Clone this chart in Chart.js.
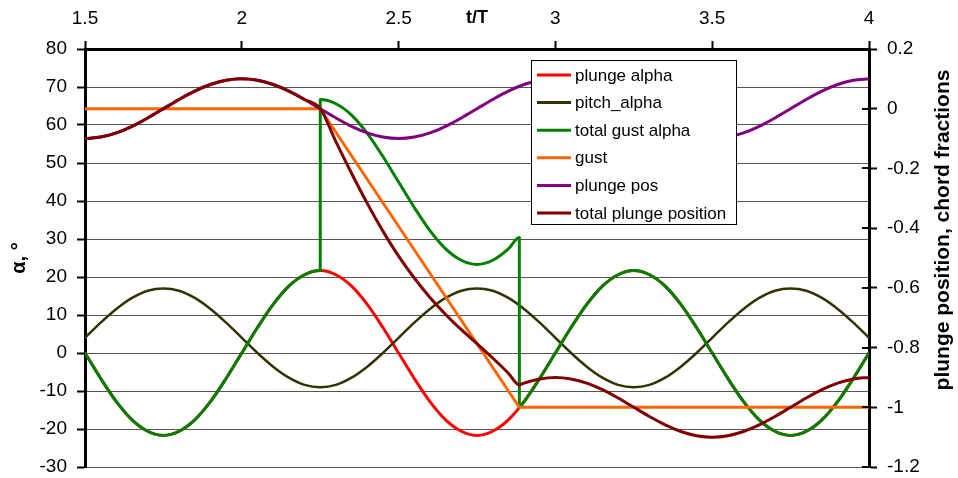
<!DOCTYPE html>
<html>
<head>
<meta charset="utf-8">
<script src="https://cdn.jsdelivr.net/npm/chart.js@4.4.1/dist/chart.umd.min.js"></script>
<style>
  body { margin: 0; background: #fff; }
</style>
</head>
<body>
<canvas id="myChart" width="958" height="478"></canvas>
<script>
// time in periods (t/T), shared by the smooth series
var tT = [1.5, 1.55, 1.6, 1.65, 1.7, 1.75, 1.8, 1.85, 1.9, 1.95,
          2, 2.05, 2.1, 2.15, 2.2, 2.25, 2.3, 2.35, 2.4, 2.45,
          2.5, 2.55, 2.6, 2.65, 2.7, 2.75, 2.8, 2.85, 2.9, 2.95,
          3, 3.05, 3.1, 3.15, 3.2, 3.25, 3.3, 3.35, 3.4, 3.45,
          3.5, 3.55, 3.6, 3.65, 3.7, 3.75, 3.8, 3.85, 3.9, 3.95, 4];

// angles in degrees
var plungeAlpha = [0, -6.7, -12.8, -17.6, -20.6, -21.7, -20.6, -17.6, -12.8, -6.7,
                   0, 6.7, 12.8, 17.6, 20.6, 21.7, 20.6, 17.6, 12.8, 6.7,
                   0, -6.7, -12.8, -17.6, -20.6, -21.7, -20.6, -17.6, -12.8, -6.7,
                   0, 6.7, 12.8, 17.6, 20.6, 21.7, 20.6, 17.6, 12.8, 6.7,
                   0, -6.7, -12.8, -17.6, -20.6, -21.7, -20.6, -17.6, -12.8, -6.7, 0];

var pitchAlpha = [4, 8, 11.6, 14.5, 16.4, 17, 16.4, 14.5, 11.6, 8,
                  4, 0, -3.6, -6.5, -8.4, -9, -8.4, -6.5, -3.6, 0,
                  4, 8, 11.6, 14.5, 16.4, 17, 16.4, 14.5, 11.6, 8,
                  4, 0, -3.6, -6.5, -8.4, -9, -8.4, -6.5, -3.6, 0,
                  4, 8, 11.6, 14.5, 16.4, 17, 16.4, 14.5, 11.6, 8, 4];

// total gust alpha jumps when the gust starts and stops, so it has its own times
var gustAlphaT = [1.5, 1.55, 1.6, 1.65, 1.7, 1.75, 1.8, 1.85, 1.9, 1.95,
                  2, 2.05, 2.1, 2.15, 2.2, 2.25, 2.2501, 2.2502, 2.3, 2.35, 2.4, 2.45,
                  2.5, 2.55, 2.6, 2.65, 2.7, 2.75, 2.8, 2.85, 2.885, 2.8851, 2.9, 2.95,
                  3, 3.05, 3.1, 3.15, 3.2, 3.25, 3.3, 3.35, 3.4, 3.45,
                  3.5, 3.55, 3.6, 3.65, 3.7, 3.75, 3.8, 3.85, 3.9, 3.95, 4];
var gustAlpha = [0, -6.7, -12.8, -17.6, -20.6, -21.7, -20.6, -17.6, -12.8, -6.7,
                 0, 6.7, 12.8, 17.6, 20.6, 21.7, 21.7, 66.7, 65.6, 62.6, 57.8, 51.7,
                 45, 38.3, 32.2, 27.4, 24.4, 23.3, 24.4, 27.4, 30.4, -14.3, -12.8, -6.7,
                 0, 6.7, 12.8, 17.6, 20.6, 21.7, 20.6, 17.6, 12.8, 6.7,
                 0, -6.7, -12.8, -17.6, -20.6, -21.7, -20.6, -17.6, -12.8, -6.7, 0];

// positions in chord fractions (right axis)
var gustT = [1.5, 2.25, 2.885, 4];
var gustPos = [0, 0, -1, -1];

var plungePos = [-0.1, -0.095, -0.081, -0.059, -0.031, 0, 0.031, 0.059, 0.081, 0.095,
                 0.1, 0.095, 0.081, 0.059, 0.031, 0, -0.031, -0.059, -0.081, -0.095,
                 -0.1, -0.095, -0.081, -0.059, -0.031, 0, 0.031, 0.059, 0.081, 0.095,
                 0.1, 0.095, 0.081, 0.059, 0.031, 0, -0.031, -0.059, -0.081, -0.095,
                 -0.1, -0.095, -0.081, -0.059, -0.031, 0, 0.031, 0.059, 0.081, 0.095, 0.1];

var totalPosT = [1.5, 1.55, 1.6, 1.65, 1.7, 1.75, 1.8, 1.85, 1.9, 1.95,
                 2, 2.05, 2.1, 2.15, 2.2, 2.25, 2.3, 2.35, 2.4, 2.45,
                 2.5, 2.55, 2.6, 2.65, 2.7, 2.75, 2.8, 2.85, 2.885, 2.9, 2.95,
                 3, 3.05, 3.1, 3.15, 3.2, 3.25, 3.3, 3.35, 3.4, 3.45,
                 3.5, 3.55, 3.6, 3.65, 3.7, 3.75, 3.8, 3.85, 3.9, 3.95, 4];
var totalPos = [-0.1, -0.095, -0.081, -0.059, -0.031, 0, 0.031, 0.059, 0.081, 0.095,
                0.1, 0.095, 0.081, 0.059, 0.031, 0, -0.11, -0.216, -0.317, -0.41,
                -0.494, -0.567, -0.632, -0.689, -0.74, -0.787, -0.835, -0.886, -0.925, -0.919, -0.905,
                -0.9, -0.905, -0.919, -0.941, -0.969, -1, -1.031, -1.059, -1.081, -1.095,
                -1.1, -1.095, -1.081, -1.059, -1.031, -1, -0.969, -0.941, -0.919, -0.905, -0.9];

// axis ticks
var xTicks = [1.5, 2, 2.5, 3, 3.5, 4];
var leftTicks = [-30, -20, -10, 0, 10, 20, 30, 40, 50, 60, 70, 80];
var rightTicks = [-1.2, -1, -0.8, -0.6, -0.4, -0.2, 0, 0.2];

function pts(xs, ys) {
  return xs.map(function (x, i) { return { x: x, y: ys[i] }; });
}

// fixed axis sizes, no extra room for the end labels
function fitTo(size, horizontal) {
  return function (s) {
    if (horizontal) { s.height = size; } else { s.width = size; }
    s.paddingTop = s.paddingBottom = s.paddingLeft = s.paddingRight = 0;
  };
}

Chart.defaults.font.family = '"Liberation Sans", Arial, sans-serif';
Chart.defaults.color = '#000';

// axis titles, the framed legend and the inner half of the right-hand ticks
var extras = {
  id: 'extras',
  afterDraw: function (chart) {
    var ctx = chart.ctx;
    var area = chart.chartArea;
    var yR = chart.scales.y1;
    ctx.save();

    ctx.strokeStyle = '#000';
    ctx.lineWidth = 2;
    yR.ticks.forEach(function (t) {
      var py = Math.round(yR.getPixelForValue(t.value));
      ctx.beginPath();
      ctx.moveTo(area.right - 7, py);
      ctx.lineTo(area.right, py);
      ctx.stroke();
    });

    ctx.fillStyle = '#000';
    ctx.textAlign = 'center';
    ctx.textBaseline = 'middle';
    ctx.font = 'bold 18px "Liberation Sans", Arial, sans-serif';
    ctx.fillText('t/T', chart.scales.x.getPixelForValue(2.75), 18);

    ctx.font = 'bold 20px "Liberation Sans", Arial, sans-serif';
    ctx.save();
    ctx.translate(19, (area.top + area.bottom) / 2);
    ctx.rotate(-Math.PI / 2);
    ctx.fillText('α, °', 0, 0);
    ctx.restore();

    ctx.font = 'bold 21px "Liberation Sans", Arial, sans-serif';
    ctx.save();
    ctx.translate(943, 230);
    ctx.rotate(-Math.PI / 2);
    ctx.fillText('plunge position, chord fractions', 0, 0);
    ctx.restore();

    // legend
    var lx = area.left + 446, ly = area.top + 11, lw = 205, lh = 164;
    ctx.fillStyle = '#fff';
    ctx.fillRect(lx, ly, lw, lh);
    ctx.strokeStyle = '#000';
    ctx.lineWidth = 1;
    ctx.strokeRect(lx + 0.5, ly + 0.5, lw, lh);
    ctx.font = '17px "Liberation Sans", Arial, sans-serif';
    ctx.textAlign = 'left';
    chart.data.datasets.forEach(function (ds, i) {
      var ry = ly + 15 + i * 27.6;
      ctx.strokeStyle = ds.borderColor;
      ctx.lineWidth = 3;
      ctx.beginPath();
      ctx.moveTo(lx + 6, ry);
      ctx.lineTo(lx + 40, ry);
      ctx.stroke();
      ctx.fillStyle = '#000';
      ctx.fillText(ds.label, lx + 44, ry + 1);
    });
    ctx.restore();
  }
};

var ctx = document.getElementById('myChart').getContext('2d');

var myChart = new Chart(ctx, {
  type: 'line',
  data: {
    datasets: [
      { label: 'plunge alpha', data: pts(tT, plungeAlpha), yAxisID: 'y',
        borderColor: '#ff0000', borderWidth: 3, order: 6 },
      { label: 'pitch_alpha', data: pts(tT, pitchAlpha), yAxisID: 'y',
        borderColor: '#333300', borderWidth: 2.5, order: 5 },
      { label: 'total gust alpha', data: pts(gustAlphaT, gustAlpha), yAxisID: 'y',
        borderColor: '#008000', borderWidth: 3, order: 4 },
      { label: 'gust', data: pts(gustT, gustPos), yAxisID: 'y1',
        borderColor: '#ff6600', borderWidth: 3, order: 3, cubicInterpolationMode: 'default' },
      { label: 'plunge pos', data: pts(tT, plungePos), yAxisID: 'y1',
        borderColor: '#800080', borderWidth: 3, order: 2 },
      { label: 'total plunge position', data: pts(totalPosT, totalPos), yAxisID: 'y1',
        borderColor: '#800000', borderWidth: 3, order: 1 }
    ]
  },
  options: {
    responsive: false,
    animation: false,
    layout: { padding: { left: 0, right: 0, top: 0, bottom: 11 } },
    elements: {
      point: { radius: 0 },
      line: { cubicInterpolationMode: 'monotone', fill: false, borderCapStyle: 'round', borderJoinStyle: 'round' }
    },
    plugins: {
      legend: { display: false },
      tooltip: { enabled: false }
    },
    scales: {
      x: {
        type: 'linear',
        position: 'top',
        min: 1.5,
        max: 4,
        afterFit: fitTo(49, true),
        afterBuildTicks: function (s) { s.ticks = xTicks.map(function (v) { return { value: v }; }); },
        ticks: { font: { size: 19 }, padding: 11, maxRotation: 0,
                 callback: function (v) { return String(v); } },
        grid: { drawOnChartArea: false, drawTicks: true, tickLength: 8, tickWidth: 2, tickColor: '#000' },
        border: { display: true, color: '#000', width: 3 }
      },
      y: {
        position: 'left',
        min: -30,
        max: 80,
        afterFit: fitTo(85, false),
        afterBuildTicks: function (s) { s.ticks = leftTicks.map(function (v) { return { value: v }; }); },
        ticks: { font: { size: 19 }, padding: 10, callback: function (v) { return String(v); } },
        grid: { color: '#555', lineWidth: 1, drawTicks: true, tickLength: 8, tickWidth: 2, tickColor: '#000' },
        border: { display: true, color: '#000', width: 3 }
      },
      y1: {
        position: 'right',
        min: -1.2,
        max: 0.2,
        afterFit: fitTo(89, false),
        afterBuildTicks: function (s) { s.ticks = rightTicks.map(function (v) { return { value: v }; }); },
        ticks: { font: { size: 19 }, padding: 10, callback: function (v) { return String(v); } },
        grid: { drawOnChartArea: false, drawTicks: true, tickLength: 8, tickWidth: 2, tickColor: '#000' },
        border: { display: true, color: '#000', width: 3 }
      }
    }
  },
  plugins: [extras]
});
</script>
</body>
</html>
